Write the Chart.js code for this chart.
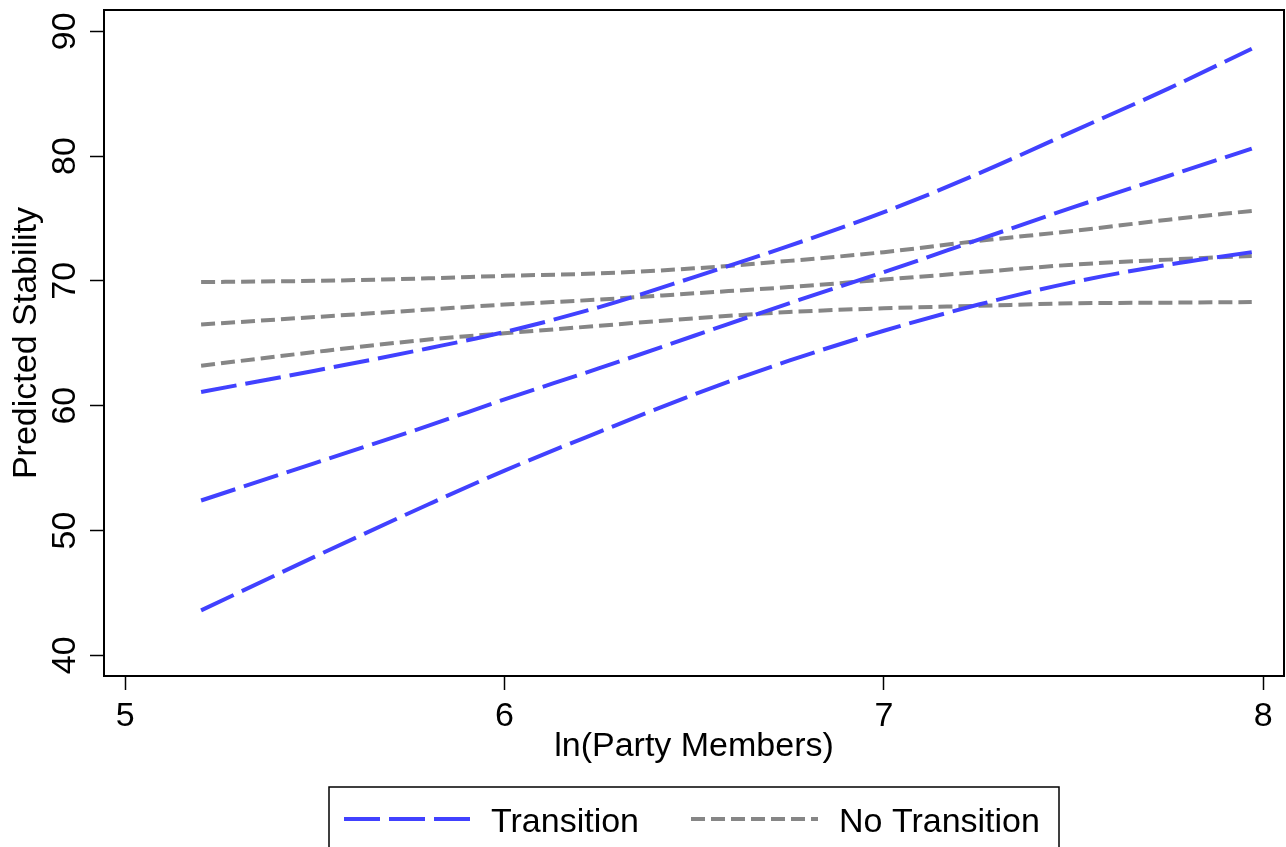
<!DOCTYPE html>
<html>
<head>
<meta charset="utf-8">
<script src="https://cdn.jsdelivr.net/npm/chart.js@4.4.1/dist/chart.umd.min.js"></script>
<style>
  html, body { margin: 0; padding: 0; background: #fff; }
</style>
</head>
<body>
<canvas id="graficoEstabilidad" width="1286" height="847"></canvas>
<script>
// Valores
const lnMembers = [5.2, 5.5, 5.8, 6.0, 6.25, 6.5, 6.75, 7.0, 7.25, 7.5, 7.75, 7.97];
const transitionUpper = [61.1, 62.8, 64.6, 65.9, 67.9, 70.3, 72.8, 75.5, 78.6, 82.0, 85.4, 88.6];
const transitionFit = [52.4, 55.4, 58.4, 60.5, 63.0, 65.6, 68.2, 70.7, 73.3, 75.9, 78.4, 80.6];
const transitionLower = [43.6, 47.9, 52.1, 54.8, 57.9, 60.9, 63.6, 66.0, 68.1, 69.9, 71.3, 72.3];
const noTransitionUpper = [69.9, 70.0, 70.2, 70.4, 70.6, 71.0, 71.6, 72.3, 73.2, 74.0, 74.9, 75.6];
const noTransitionFit = [66.5, 67.1, 67.7, 68.1, 68.5, 69.0, 69.5, 70.1, 70.7, 71.3, 71.7, 72.0];
const noTransitionLower = [63.2, 64.3, 65.3, 65.8, 66.4, 67.0, 67.5, 67.8, 68.0, 68.2, 68.25, 68.3];

const xTicks = [5, 6, 7, 8];
const yTicks = [40, 50, 60, 70, 80, 90];
const legendLabels = ['Transition', 'No Transition'];

const azul = '#4141ff';
const gris = '#868686';
const guionAzul = [36, 9];
const guionGris = [14, 6];
const tamLetra = 34;

Chart.defaults.font.family = '"Liberation Sans", Arial, sans-serif';
Chart.defaults.color = '#000';

function puntos(ys) {
  return lnMembers.map((x, i) => ({ x: x, y: ys[i] }));
}

function linea(ys, color, dash) {
  return {
    data: puntos(ys),
    borderColor: color,
    borderWidth: 4,
    borderDash: dash,
    borderCapStyle: 'butt',
    pointRadius: 0,
    fill: false,
    cubicInterpolationMode: 'monotone'
  };
}

// Marco completo y leyenda con recuadro (estilo Stata)
const marcoYLeyenda = {
  id: 'marcoYLeyenda',
  afterDatasetsDraw(chart) {
    const { ctx, chartArea: a } = chart;
    ctx.save();
    ctx.strokeStyle = '#000';
    ctx.lineWidth = 2;
    ctx.strokeRect(a.left, a.top, a.right - a.left, a.bottom - a.top);
    ctx.restore();
  },
  afterDraw(chart) {
    const { ctx, chartArea: a } = chart;
    const centro = (a.left + a.right) / 2;
    const izq = centro - 365;
    ctx.save();
    ctx.strokeStyle = '#000';
    ctx.lineWidth = 1.5;
    ctx.strokeRect(izq, 787, 730, 100);

    const yLinea = 819;
    const muestras = [
      { x0: izq + 15, x1: izq + 141, color: azul, dash: guionAzul, tx: izq + 162 },
      { x0: izq + 362, x1: izq + 489, color: gris, dash: guionGris, tx: izq + 510 }
    ];
    ctx.font = tamLetra + 'px "Liberation Sans", Arial, sans-serif';
    ctx.textBaseline = 'alphabetic';
    ctx.textAlign = 'left';
    muestras.forEach((m, i) => {
      ctx.beginPath();
      ctx.setLineDash(m.dash);
      ctx.strokeStyle = m.color;
      ctx.lineWidth = 4;
      ctx.moveTo(m.x0, yLinea);
      ctx.lineTo(m.x1, yLinea);
      ctx.stroke();
      ctx.setLineDash([]);
      ctx.fillStyle = '#000';
      ctx.fillText(legendLabels[i], m.tx, 831.5);
    });
    ctx.restore();
  }
};

const ctx = document.getElementById('graficoEstabilidad').getContext('2d');
new Chart(ctx, {
  type: 'line',
  data: {
    datasets: [
      linea(transitionUpper, azul, guionAzul),
      linea(transitionFit, azul, guionAzul),
      linea(transitionLower, azul, guionAzul),
      linea(noTransitionUpper, gris, guionGris),
      linea(noTransitionFit, gris, guionGris),
      linea(noTransitionLower, gris, guionGris)
    ]
  },
  options: {
    responsive: false,
    animation: false,
    layout: {
      padding: { top: 10, right: 2, bottom: 71, left: 0 }
    },
    plugins: {
      legend: { display: false },
      tooltip: { enabled: false }
    },
    scales: {
      x: {
        type: 'linear',
        min: 4.944,
        max: 8.055,
        afterBuildTicks: s => { s.ticks = xTicks.map(v => ({ value: v })); },
        afterFit: s => { s.height = 100; s.paddingLeft = 0; s.paddingRight = 0; },
        grid: { drawOnChartArea: false, tickLength: 14, tickColor: '#000', tickWidth: 1.5 },
        border: { color: '#000', width: 2 },
        ticks: { font: { size: tamLetra }, padding: 6, maxRotation: 0 },
        title: {
          display: true,
          text: 'ln(Party Members)',
          font: { size: tamLetra },
          padding: { top: 0, bottom: 9 }
        }
      },
      y: {
        type: 'linear',
        min: 38.34,
        max: 91.7,
        afterBuildTicks: s => { s.ticks = yTicks.map(v => ({ value: v })); },
        afterFit: s => { s.width = 104; s.paddingTop = 0; s.paddingBottom = 0; },
        grid: { drawOnChartArea: false, tickLength: 14, tickColor: '#000', tickWidth: 1.5 },
        border: { color: '#000', width: 2 },
        ticks: { font: { size: tamLetra }, padding: 5, minRotation: 90, maxRotation: 90, crossAlign: 'center' },
        title: {
          display: true,
          text: 'Predicted Stability',
          font: { size: tamLetra },
          padding: { top: 6, bottom: 0 }
        }
      }
    }
  },
  plugins: [marcoYLeyenda]
});
</script>
</body>
</html>
